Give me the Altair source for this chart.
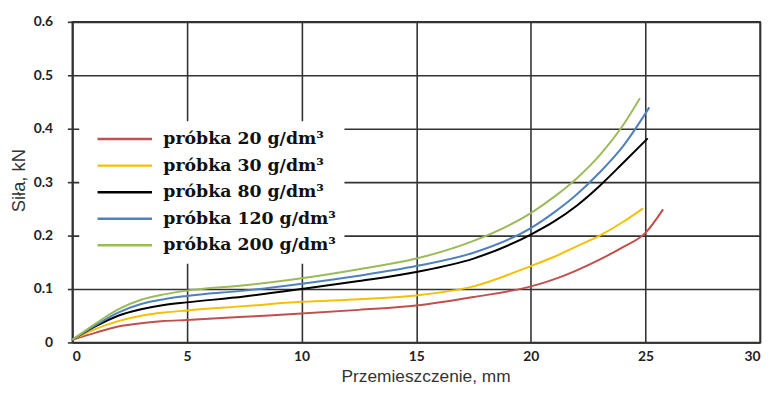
import altair as alt
import pandas as pd

# Series (x in mm, y in kN)
x_20 = [0, 1, 2, 3, 4, 5, 7.5, 10, 12.5, 15, 17.5, 20, 21, 22, 23, 24, 25, 25.77]
y_20 = [0.005, 0.018, 0.030, 0.036, 0.040, 0.042, 0.048, 0.054, 0.061, 0.069, 0.085, 0.105, 0.118, 0.135, 0.155, 0.178, 0.205, 0.249]

x_30 = [0, 1, 2, 3, 4, 5, 7.5, 10, 12.5, 15, 17.5, 20, 21, 22, 23, 24, 24.9]
y_30 = [0.005, 0.025, 0.040, 0.050, 0.056, 0.060, 0.068, 0.076, 0.081, 0.088, 0.105, 0.143, 0.160, 0.180, 0.200, 0.225, 0.251]

x_80 = [0, 1, 2, 3, 4, 5, 7.5, 10, 12.5, 15, 17.5, 20, 21, 22, 23, 24, 25.1]
y_80 = [0.005, 0.030, 0.050, 0.062, 0.070, 0.075, 0.086, 0.100, 0.115, 0.132, 0.157, 0.202, 0.226, 0.256, 0.293, 0.335, 0.382]

x_120 = [0, 1, 2, 3, 4, 5, 7.5, 10, 12.5, 15, 17.5, 20, 21, 22, 23, 24, 25.17]
y_120 = [0.005, 0.032, 0.056, 0.072, 0.081, 0.087, 0.097, 0.110, 0.125, 0.143, 0.168, 0.214, 0.243, 0.277, 0.318, 0.366, 0.440]

x_200 = [0, 1, 2, 3, 4, 5, 7.5, 10, 12.5, 15, 17.5, 20, 21, 22, 23, 24, 24.76]
y_200 = [0.005, 0.035, 0.062, 0.080, 0.090, 0.097, 0.107, 0.120, 0.137, 0.157, 0.190, 0.242, 0.272, 0.307, 0.350, 0.405, 0.457]

labels = ["próbka 20 g/dm³", "próbka 30 g/dm³", "próbka 80 g/dm³",
          "próbka 120 g/dm³", "próbka 200 g/dm³"]
colors = ["#C0504D", "#F5C000", "#000000", "#4F81BD", "#9BBB59"]

x_ticks = [0, 5, 10, 15, 20, 25, 30]
y_ticks = [0, 0.1, 0.2, 0.3, 0.4, 0.5, 0.6]

rows = []
for lab, xs, ys in zip(labels, [x_20, x_30, x_80, x_120, x_200],
                       [y_20, y_30, y_80, y_120, y_200]):
    for i, (xv, yv) in enumerate(zip(xs, ys)):
        rows.append({"seria": lab, "x": xv, "y": yv, "i": i})
df = pd.DataFrame(rows)

grid_col = "#333333"

chart = alt.Chart(df).mark_line(strokeWidth=2, interpolate="monotone").encode(
    x=alt.X("x:Q", scale=alt.Scale(domain=[0, 30], nice=False),
            axis=alt.Axis(values=x_ticks, title="Przemieszczenie, mm",
                          labelFont="Lato", labelFontWeight="bold", labelFontSize=14,
                          labelColor="#222222", tickSize=0, labelPadding=7,
                          titleFont="Liberation Sans", titleFontWeight="normal",
                          titleFontSize=17.5, titleColor="#333333",
                          titleX=357, titleY=39, titleBaseline="alphabetic",
                          titleAlign="center",
                          grid=True, gridColor=grid_col, gridWidth=1.6,
                          domainColor=grid_col, domainWidth=1.6)),
    y=alt.Y("y:Q", scale=alt.Scale(domain=[0, 0.6], nice=False),
            axis=alt.Axis(values=y_ticks, title="Siła, kN",
                          labelExpr="datum.value == 0 ? '0' : format(datum.value, '.1f')",
                          labelFont="Lato", labelFontWeight="bold", labelFontSize=14,
                          labelColor="#222222", tickSize=5, tickColor=grid_col,
                          tickWidth=1.6, labelPadding=15,
                          titleFont="Liberation Sans", titleFontWeight="normal",
                          titleFontSize=18.5, titleColor="#333333",
                          titleX=-48, titleY=160, titleBaseline="alphabetic",
                          titleAlign="center", titleAngle=270,
                          grid=True, gridColor=grid_col, gridWidth=1.6,
                          domainColor=grid_col, domainWidth=1.6)),
    color=alt.Color("seria:N",
                    scale=alt.Scale(domain=labels, range=colors),
                    sort=labels,
                    legend=alt.Legend(title=None, orient="none",
                                      legendX=7, legendY=100.5,
                                      fillColor="white", padding=8,
                                      symbolType="stroke", symbolSize=3025,
                                      symbolStrokeWidth=2.5, symbolOffset=9,
                                      clipHeight=20,
                                      labelExpr="datum.label + '\u2003\u2003'",
                                      labelFont="DejaVu Serif", labelFontWeight="bold",
                                      labelFontSize=17.5, labelColor="#111111",
                                      labelOffset=10, labelLimit=400,
                                      rowPadding=6.8)),
    order="i:Q",
    detail="seria:N",
).properties(
    width=695, height=324,
    padding={"left": 65, "top": 12, "right": 6, "bottom": 42},
    autosize=alt.AutoSizeParams(type="none"),
    background="white",
).configure_view(stroke=grid_col, strokeWidth=1.6)

chart.save("out.html", embed_options={"renderer": "svg", "actions": False})
